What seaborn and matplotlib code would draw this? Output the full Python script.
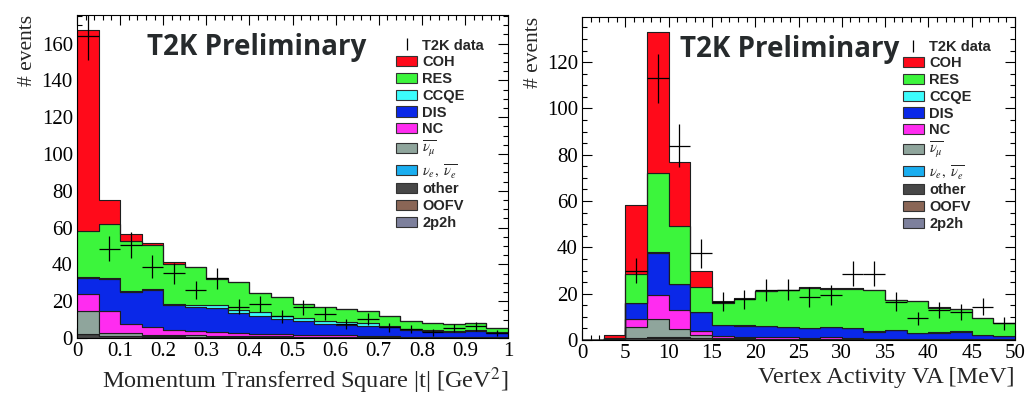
import numpy as np
import pandas as pd
import matplotlib
matplotlib.use("Agg")
import matplotlib.pyplot as plt
import seaborn as sns
from matplotlib.patches import Patch
from matplotlib.lines import Line2D
from matplotlib.ticker import MultipleLocator

sns.set_theme(style="ticks")
plt.rcParams["font.family"] = ["Liberation Serif", "DejaVu Serif"]
plt.rcParams["mathtext.fontset"] = "stix"

# ---------------- data ----------------
components = ["COH", "RES", "CCQE", "DIS", "NC", "numubar", "nue", "other", "OOFV", "2p2h"]
legend_labels = ["COH", "RES", "CCQE", "DIS", "NC", r"$\overline{\nu_{\mu}}$",
                 r"$\nu_{e},\ \overline{\nu_{e}}$", "other", "OOFV", "2p2h"]
colors = ["#ff0a1a", "#3cf53c", "#3cfcfc", "#0a28e8", "#ff2cf0",
          "#8fa59c", "#1aaef0", "#474747", "#8a6656", "#7d809c"]

# Left panel: |t| [GeV^2]
t_edges = [0.0, 0.05, 0.1, 0.15, 0.2, 0.25, 0.3, 0.35, 0.4, 0.45, 0.5,
           0.55, 0.6, 0.65, 0.7, 0.75, 0.8, 0.85, 0.9, 0.95, 1.0]
t_mc = {
    "COH":     [109, 13, 3.8, 0.9, 1.2, 0.3, 0.2, 0, 0, 0, 0, 0, 0, 0, 0, 0, 0, 0, 0, 0],
    "RES":     [25, 29.5, 27.4, 24, 21.6, 20.4, 14.5, 15, 10.4, 10.5, 7.6, 7.6, 7.4, 6.3, 5.4, 4.4, 3.7, 4.0, 3.8, 2.4],
    "CCQE":    [0.6, 0.5, 0.5, 0.5, 0.6, 1.0, 1.5, 1.8, 1.9, 1.4, 1.4, 1.3, 1.3, 1.4, 0.5, 0.5, 0.4, 0.4, 0.3, 0.3],
    "DIS":     [8.4, 17.6, 17.0, 20.0, 13.7, 13.4, 13.0, 10.8, 9.7, 8.1, 7.6, 6.1, 5.8, 5.5, 4.9, 3.7, 3.3, 2.6, 3.4, 2.2],
    "NC":      [9.2, 11.7, 5.2, 4.5, 2.8, 2.3, 2.0, 1.7, 1.4, 1.4, 1.1, 1.0, 0.8, 0.7, 0.4, 0.4, 0.3, 0.2, 0.2, 0.2],
    "numubar": [12.8, 1.7, 1.5, 0.7, 0.7, 0.6, 0.5, 0.4, 0.4, 0.3, 0.3, 0.2, 0.2, 0.2, 0.2, 0.1, 0.1, 0.1, 0.1, 0.1],
    "nue":     [0.1, 0.1, 0.1, 0.1, 0.1, 0.1, 0.1, 0.1, 0.1, 0.1, 0, 0, 0, 0, 0, 0, 0, 0, 0, 0],
    "other":   [1.8, 0.9, 0.9, 0.7, 0.7, 0.6, 0.6, 0.5, 0.4, 0.4, 0.3, 0.3, 0.3, 0.2, 0.2, 0.2, 0.2, 0.2, 0.2, 0.1],
    "OOFV":    [0.2, 0.1, 0.1, 0.1, 0.1, 0.1, 0.1, 0.1, 0.1, 0.1, 0.1, 0.1, 0.1, 0.1, 0.1, 0.1, 0.1, 0.1, 0.1, 0.1],
    "2p2h":    [0, 0, 0, 0, 0, 0, 0, 0, 0, 0, 0, 0, 0, 0, 0, 0, 0, 0, 0, 0],
}
t_data = [164, 48.6, 50.5, 38.7, 35.1, 26.1, 32.4, 17.1, 18.4, 11.7,
          16.6, 13.2, 7.6, 10.3, 5.9, 5.0, 3.0, 5.4, 6.3, 2.7]
t_err = [13, 7, 7.1, 6.2, 5.9, 5.1, 5.7, 4.1, 4.3, 3.4,
         4.1, 3.6, 2.8, 3.2, 2.4, 2.2, 1.7, 2.3, 2.5, 1.6]
t_ticklabels = ["0", "0.1", "0.2", "0.3", "0.4", "0.5", "0.6", "0.7", "0.8", "0.9", "1"]

# Right panel: vertex activity [MeV]
va_edges = [0.0, 2.5, 5.0, 7.5, 10.0, 12.5, 15.0, 17.5, 20.0, 22.5, 25.0,
            27.5, 30.0, 32.5, 35.0, 37.5, 40.0, 42.5, 45.0, 47.5, 50.0]
va_mc = {
    "COH":     [0, 1.4, 29.8, 60.9, 27.6, 6.7, 1.0, 0.2, 0.1, 0.1, 0.1, 0.1, 0.1, 0.1, 0.1, 0.1, 0.1, 0.1, 0, 0],
    "RES":     [0, 0.1, 12.5, 34.3, 25.0, 11.0, 9.2, 11.5, 14.9, 15.7, 17.5, 16.6, 17.1, 18.0, 12.7, 13.9, 10.7, 9.6, 7.0, 5.4],
    "CCQE":    [0, 0, 0.1, 0.2, 0.2, 0.2, 0.1, 0.1, 0.1, 0.1, 0.1, 0.1, 0.1, 0.1, 0.1, 0.1, 0.1, 0.1, 0.1, 0.1],
    "DIS":     [0, 0.1, 6.9, 18.2, 11.2, 7.8, 4.8, 4.9, 4.8, 4.6, 4.0, 4.4, 4.3, 3.0, 3.7, 2.4, 2.7, 3.1, 1.8, 1.3],
    "NC":      [0, 0.2, 3.6, 10.5, 8.3, 2.0, 0.9, 0.6, 0.6, 0.5, 0.5, 0.6, 0.3, 0.2, 0.2, 0.1, 0.2, 0.2, 0.1, 0.1],
    "numubar": [0, 0.1, 4.6, 7.9, 3.6, 1.3, 0.3, 0.2, 0.2, 0.2, 0.1, 0.1, 0.1, 0.1, 0.1, 0.1, 0.1, 0.1, 0.1, 0.1],
    "nue":     [0, 0, 0.1, 0.1, 0.1, 0.1, 0, 0, 0, 0, 0, 0, 0, 0, 0, 0, 0, 0, 0, 0],
    "other":   [0, 0.3, 0.6, 0.9, 0.9, 0.6, 0.5, 0.4, 0.4, 0.4, 0.3, 0.3, 0.3, 0.3, 0.2, 0.2, 0.2, 0.2, 0.2, 0.2],
    "OOFV":    [0, 0, 0.1, 0.1, 0.1, 0.1, 0, 0.1, 0, 0, 0.1, 0.1, 0, 0, 0.1, 0.1, 0, 0, 0, 0],
    "2p2h":    [0, 0, 0, 0, 0, 0, 0, 0, 0, 0, 0, 0, 0, 0, 0, 0, 0, 0, 0, 0],
}
va_data_centers = [6.25, 8.75, 11.25, 13.75, 16.25, 18.75, 21.25, 23.75, 26.25,
                   28.75, 31.25, 33.75, 36.25, 38.75, 41.25, 43.75, 46.25, 48.75]
va_data = [30, 113, 84, 37.4, 16.5, 17.5, 21.6, 21.8, 18.7,
           19.4, 28.7, 28.7, 16.5, 9.3, 12.9, 12.2, 14.4, 7.2]
va_err = [5.5, 10.6, 9.2, 6.1, 4.1, 4.2, 4.6, 4.7, 4.3,
          4.4, 5.4, 5.4, 4.1, 3.0, 3.6, 3.5, 3.8, 2.7]


def long_frame(edges, mc):
    centers = [(a + b) / 2 for a, b in zip(edges[:-1], edges[1:])]
    rows = []
    for comp in components:
        for c, w in zip(centers, mc[comp]):
            rows.append({"x": c, "w": w, "comp": comp})
    return pd.DataFrame(rows), centers


fig = plt.figure(figsize=(10.36, 3.94), dpi=100)
ax1 = fig.add_axes([77 / 1036, 1 - 338 / 394, 431 / 1036, 323 / 394])
ax2 = fig.add_axes([582 / 1036, 1 - 340 / 394, 433 / 1036, 323 / 394])


def draw_panel(ax, edges, mc, dcenters, dvals, derrs, ymax, xlabel,
               xmajor, xminor, text_x, leg_anchor):
    df, centers = long_frame(edges, mc)
    sns.histplot(data=df, x="x", weights="w", hue="comp", hue_order=components,
                 palette=colors, multiple="stack", bins=edges, element="step",
                 fill=True, alpha=1, edgecolor="#1e1e1e", linewidth=0.8,
                 legend=False, ax=ax)
    half = (edges[1] - edges[0]) / 2
    ax.errorbar(dcenters, dvals, xerr=half, yerr=derrs, fmt="none",
                ecolor="black", elinewidth=0.9, capsize=0, zorder=5)
    ax.set_xlim(edges[0], edges[-1])
    ax.set_ylim(0, ymax)
    ax.xaxis.set_major_locator(MultipleLocator(xmajor))
    ax.xaxis.set_minor_locator(MultipleLocator(xminor))
    ax.yaxis.set_major_locator(MultipleLocator(20))
    ax.yaxis.set_minor_locator(MultipleLocator(5))
    ax.tick_params(which="both", direction="in", top=True, right=True,
                   labelsize=15, colors="black", width=0.8)
    ax.tick_params(which="major", length=7.5, pad=3)
    ax.tick_params(which="minor", length=3.8)
    for s in ax.spines.values():
        s.set_linewidth(0.8)
        s.set_color("black")
    ax.set_xlabel(xlabel, fontsize=17.5, loc="right", labelpad=3)
    ax.set_ylabel("# events", fontsize=15.5, loc="top", labelpad=3)
    ax.text(text_x, 0.90, "T2K Preliminary", transform=ax.transAxes,
            fontsize=20, fontweight="bold", family="Open Sans",
            color="#262a2c", va="center", ha="left")
    handles = [Line2D([], [], color="black", marker="|", markersize=9,
                      markeredgewidth=0.9, linestyle="none")]
    handles += [Patch(facecolor=c, edgecolor="#333333", linewidth=0.8) for c in colors]
    labels = ["T2K data"] + legend_labels
    leg = ax.legend(handles, labels, loc="upper left", bbox_to_anchor=leg_anchor,
                    frameon=False, fontsize=10.5, handlelength=1.45,
                    handleheight=0.7, labelspacing=0.19, handletextpad=0.35,
                    borderaxespad=0, borderpad=0)
    for t in leg.get_texts():
        t.set_family(["Liberation Sans", "DejaVu Sans"])
        t.set_fontweight("bold")


draw_panel(ax1, t_edges, t_mc, [(a + b) / 2 for a, b in zip(t_edges[:-1], t_edges[1:])],
           t_data, t_err, 175.5, r"Momentum Transferred Square |t| [GeV$^2$]",
           0.1, 0.02, 0.163, (0.740, 0.927))
draw_panel(ax2, va_edges, va_mc, va_data_centers, va_data, va_err, 139.5,
           "Vertex Activity VA [MeV]", 5, 1, 0.226, (0.741, 0.930))

ax1.set_xticks([0, 0.1, 0.2, 0.3, 0.4, 0.5, 0.6, 0.7, 0.8, 0.9, 1.0])
ax1.set_xticklabels(t_ticklabels)

fig.savefig("out.png", dpi=100)
